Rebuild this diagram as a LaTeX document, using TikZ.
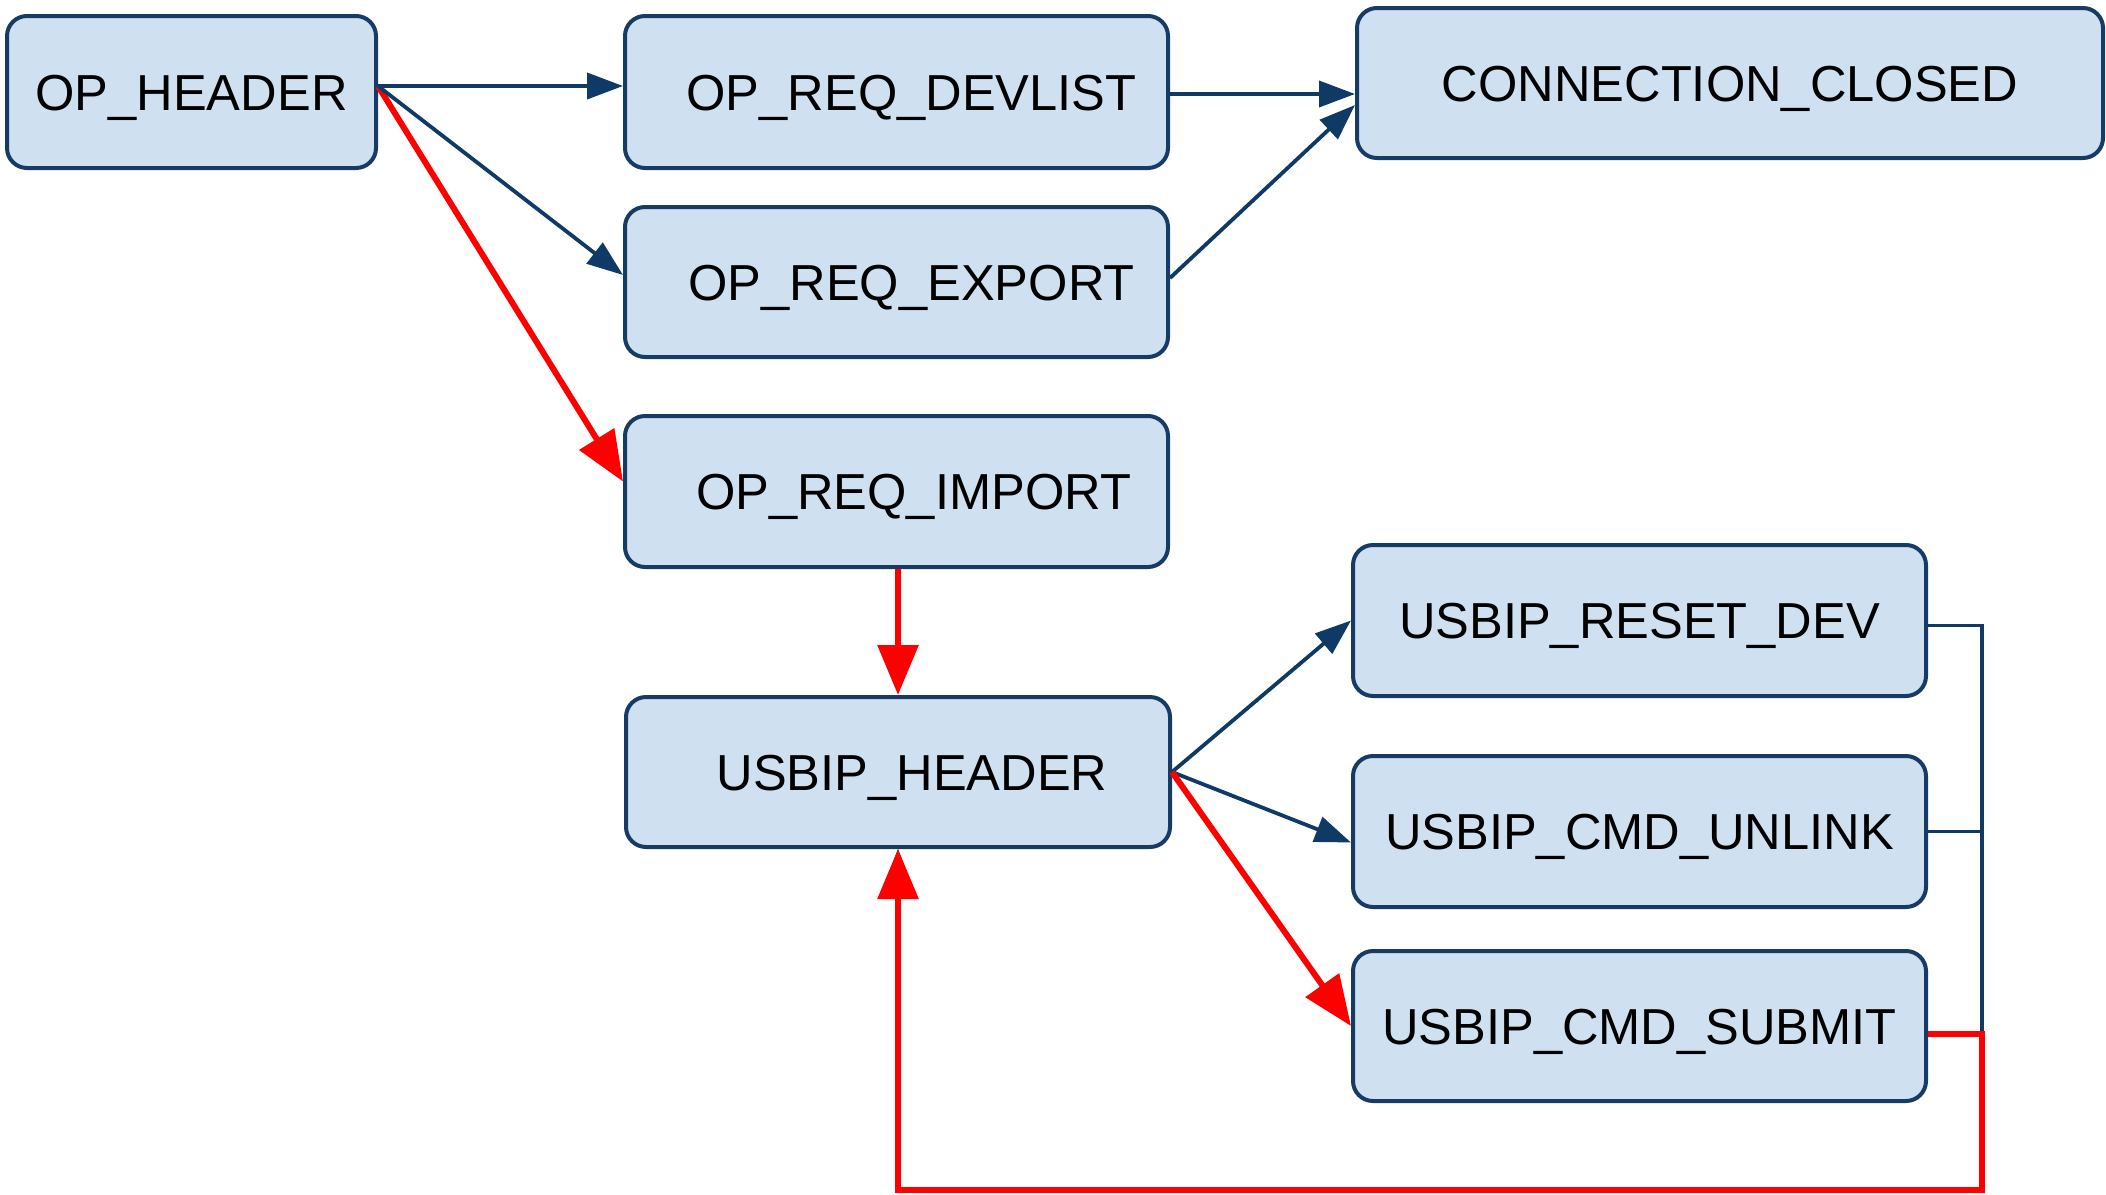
\documentclass[tikz,border=0pt]{standalone}
\usepackage{fontspec}
\setmainfont{Liberation Sans}
\usetikzlibrary{arrows.meta,calc}
\definecolor{boxfill}{RGB}{207,224,241}
\definecolor{boxline}{RGB}{22,60,101}
\definecolor{edgeblue}{RGB}{16,58,102}
\definecolor{edgered}{RGB}{255,0,0}
\begin{document}
\begin{tikzpicture}[x=0.5pt,y=-0.5pt,
 state/.style={draw=boxline, fill=boxfill, line width=2pt, rounded corners=10pt, inner sep=0pt,
   font=\fontsize{25.3}{30}\selectfont, text height=18.1pt, text depth=0pt},
 blueedge/.style={draw=edgeblue, line width=1.9pt, -{Triangle[length=18pt,width=13pt]}},
 rededge/.style={draw=edgered, line width=3pt, -{Triangle[length=25pt,width=20pt]}}]
\useasboundingbox (0,0) rectangle (2106,1195);

\node[state, minimum width=184.5pt, minimum height=76pt] (oph) at (191.5,92) {OP\_HEADER};
\node[state, minimum width=271.5pt, minimum height=76pt] (dev) at (896.5,92) {\hspace*{15pt}OP\_REQ\_DEVLIST};
\node[state, minimum width=373pt, minimum height=75pt] (cc) at (1730,83) {CONNECTION\_CLOSED};
\node[state, minimum width=271.5pt, minimum height=75pt] (exp) at (896.5,282) {\hspace*{15pt}OP\_REQ\_EXPORT};
\node[state, minimum width=271.5pt, minimum height=75.5pt] (imp) at (896.5,491.5) {\hspace*{17pt}OP\_REQ\_IMPORT};
\node[state, minimum width=272pt, minimum height=75pt] (uh) at (898,772) {\hspace*{14pt}USBIP\_HEADER};
\node[state, minimum width=286.5pt, minimum height=75.5pt] (rst) at (1639.5,620.5) {USBIP\_RESET\_DEV};
\node[state, minimum width=286.5pt, minimum height=75.5pt] (unl) at (1639.5,831.5) {USBIP\_CMD\_UNLINK};
\node[state, minimum width=286.5pt, minimum height=75pt] (sub) at (1639.5,1026) {USBIP\_CMD\_SUBMIT};

\coordinate (ophout) at ([yshift=3pt]oph.east);
\coordinate (loopx) at (1982,1190);

% loop-back connectors
\draw[blueedge] ([yshift=-2.5pt]rst.east) -| (loopx) -| (uh.south);
\draw[blueedge] (unl.east) -| (loopx) -| (uh.south);
\draw[rededge] ([yshift=-4pt]sub.east) -| (loopx) -| (uh.south);

\draw[rededge] (ophout) -- ([yshift=5pt]imp.west);
\draw[blueedge] (ophout) -- (ophout -| dev.west);
\draw[blueedge] (ophout) -- ([yshift=3.5pt]exp.west);
\draw[blueedge] ([yshift=-1pt]dev.east) -- ([yshift=-1pt]dev.east -| cc.west);
\draw[blueedge] ([yshift=2pt]exp.east) -- ([yshift=-11pt]cc.west);
\draw[rededge] (imp.south -| uh.north) -- (uh.north);
\draw[blueedge] (uh.east) -- (rst.west);
\draw[blueedge] (uh.east) -- ([yshift=-5.5pt]unl.west);
\draw[rededge] (uh.east) -- (sub.west);
\end{tikzpicture}
\end{document}
